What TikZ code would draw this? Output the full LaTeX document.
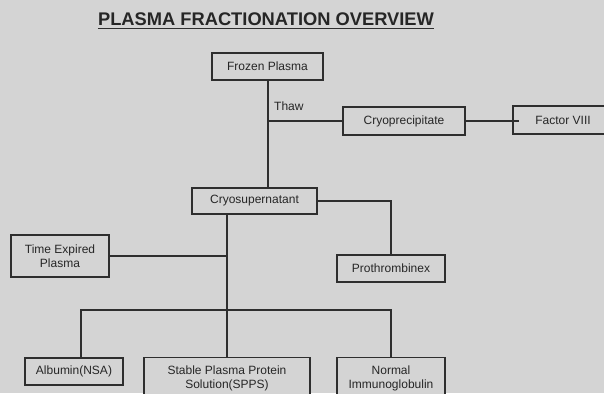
\documentclass[tikz,border=0pt]{standalone}
\usepackage{fontspec}
\setmainfont{Liberation Sans}
\begin{document}
\begin{tikzpicture}[x=1pt,y=-1pt,
  box/.style={draw=linec,line width=1.6pt,fill=bg,text=txt,inner sep=0pt,align=center,font=\fontsize{12}{13.5}\selectfont},
  conn/.style={draw=linec,line width=1.6pt}]
\definecolor{bg}{HTML}{D4D4D4}
\definecolor{linec}{HTML}{2E2E2E}
\definecolor{txt}{HTML}{262626}
\useasboundingbox (0,0) rectangle (604,393);
\fill[bg] (0,0) rectangle (604,393);
% title
\node[anchor=base,inner sep=0pt,text=txt,font=\bfseries\fontsize{18.3}{20}\selectfont] (title) at (266,25.7) {PLASMA FRACTIONATION OVERVIEW};
\draw[linec,line width=1.2pt] ([yshift=-2.8pt]title.base west) -- ([yshift=-2.8pt]title.base east);
% boxes
\node[box,minimum width=111pt,minimum height=27pt] (frozen) at (267.5,66.5) {Frozen Plasma};
\node[box,minimum width=122pt,minimum height=28pt] (cryo) at (404,121) {Cryoprecipitate};
\node[box,minimum width=100pt,minimum height=28pt] (f8) at (563,120) {Factor VIII};
\node[box,minimum width=125pt,minimum height=26pt] (super) at (254.5,201) {Cryosupernatant};
\node[box,minimum width=98pt,minimum height=42pt] (tep) at (60,256) {Time Expired\\Plasma};
\node[box,minimum width=108pt,minimum height=27pt] (proth) at (391,268.5) {Prothrombinex};
\node[box,minimum width=98pt,minimum height=27pt] (alb) at (74,371.5) {Albumin(NSA)};
\node[box,minimum width=166pt,minimum height=42pt] (spps) at (227,378.5) {Stable Plasma Protein\\Solution(SPPS)};
\node[box,minimum width=108pt,minimum height=42pt] (nig) at (391,378.5) {Normal\\Immunoglobulin};
% thaw label
\node[anchor=west,inner sep=0pt,text=txt,font=\fontsize{12}{13.5}\selectfont] (thaw) at (274,106) {Thaw};
% connectors
\coordinate (fdrop) at (268,80);
\coordinate (sdrop) at (227,214);
\coordinate (adrop) at (81,358);
\coordinate (f8in) at (519,121);
\draw[conn] (frozen.south -| fdrop) -- (fdrop |- super.north);
\draw[conn] (cryo.west) -- (cryo.west -| fdrop);
\draw[conn] (cryo.east) -- (f8in);
\draw[conn] (super.east) -| (proth.north);
\draw[conn] (sdrop) -- (spps.north);
\draw[conn] (tep.east) -- (tep.east -| sdrop);
\draw[conn] (adrop) -- (81,310) -| (nig.north);
\end{tikzpicture}
\end{document}
